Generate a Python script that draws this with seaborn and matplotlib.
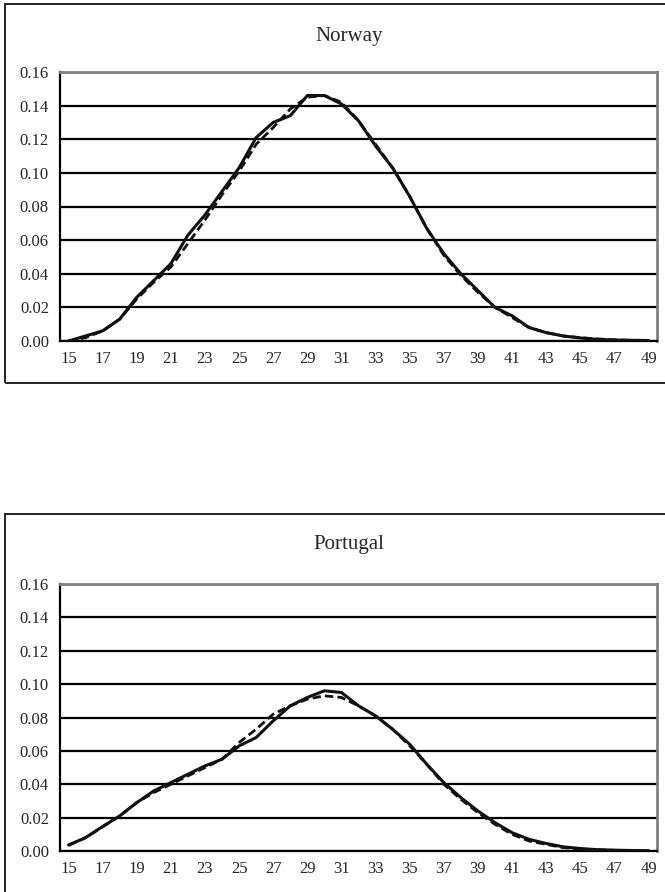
import seaborn as sns
import matplotlib.pyplot as plt
import matplotlib.patches as patches
import numpy as np
import pandas as pd

ages = list(range(15, 50))

norway_solid = [0.000, 0.003, 0.006, 0.013, 0.026, 0.036, 0.046, 0.063, 0.075, 0.089,
                0.103, 0.121, 0.130, 0.134, 0.146, 0.146, 0.141, 0.131, 0.116, 0.103,
                0.086, 0.067, 0.052, 0.040, 0.030, 0.020, 0.015, 0.008, 0.005, 0.003,
                0.0018, 0.001, 0.0006, 0.0004, 0.0003]
norway_dashed = [0.000, 0.002, 0.006, 0.013, 0.025, 0.035, 0.044, 0.058, 0.072, 0.087,
                 0.101, 0.117, 0.127, 0.138, 0.145, 0.146, 0.142, 0.131, 0.117, 0.103,
                 0.086, 0.067, 0.051, 0.039, 0.029, 0.020, 0.014, 0.008, 0.005, 0.003,
                 0.002, 0.0012, 0.0007, 0.0004, 0.0003]

portugal_solid = [0.0036, 0.008, 0.0147, 0.021, 0.029, 0.036, 0.041, 0.046, 0.051, 0.055,
                  0.063, 0.068, 0.078, 0.087, 0.092, 0.096, 0.095, 0.087, 0.081, 0.073,
                  0.064, 0.052, 0.041, 0.032, 0.024, 0.017, 0.011, 0.007, 0.0045, 0.0025,
                  0.0015, 0.0008, 0.0005, 0.0003, 0.0002]
portugal_dashed = [0.0034, 0.008, 0.0145, 0.021, 0.029, 0.035, 0.040, 0.045, 0.050, 0.055,
                   0.065, 0.073, 0.082, 0.087, 0.091, 0.093, 0.092, 0.087, 0.081, 0.073,
                   0.063, 0.052, 0.040, 0.031, 0.023, 0.016, 0.010, 0.006, 0.004, 0.002,
                   0.0012, 0.0007, 0.0004, 0.0002, 0.0001]

yticks = [0.00, 0.02, 0.04, 0.06, 0.08, 0.10, 0.12, 0.14, 0.16]

sns.set_theme(style="white")
plt.rcParams['font.family'] = ['Liberation Serif', 'DejaVu Serif']

fig = plt.figure(figsize=(6.65, 8.92), dpi=100)

# outer frames (chart areas)
for (x0, y0, w, h) in [(5, 4, 680, 379), (5, 514, 680, 400)]:
    rect = patches.Rectangle((x0 / 665, 1 - (y0 + h) / 892), w / 665, h / 892,
                             transform=fig.transFigure, fill=False,
                             edgecolor='#222222', linewidth=1.4, clip_on=False)
    fig.patches.append(rect)


def draw_panel(rect, title, title_y, solid, dashed):
    ax = fig.add_axes(rect)
    idx = np.arange(len(ages))
    df = pd.DataFrame({'idx': np.concatenate([idx, idx]),
                       'value': solid + dashed,
                       'series': ['a'] * len(ages) + ['b'] * len(ages)})
    sns.lineplot(data=df[df.series == 'b'], x='idx', y='value', ax=ax,
                 color='#111111', linewidth=2.0, linestyle=(0, (3, 1.5)), zorder=3)
    sns.lineplot(data=df[df.series == 'a'], x='idx', y='value', ax=ax,
                 color='#111111', linewidth=2.2, zorder=4)
    ax.set_xlim(-0.5, len(ages) - 0.5)
    ax.set_ylim(0, 0.16)
    ax.set_yticks(yticks)
    ax.set_yticklabels(['%.2f' % v for v in yticks], fontsize=12)
    ax.yaxis.grid(True, color='black', linewidth=1.6)
    ax.set_axisbelow(True)
    ax.set_xticks(idx[::2])
    ax.set_xticklabels([str(a) for a in ages[::2]], fontsize=12)
    ax.set_xticks(np.arange(-0.5, len(ages), 1.0), minor=True)
    ax.tick_params(axis='x', which='major', length=0, pad=7)
    ax.tick_params(axis='x', which='minor', length=4, width=1.5, color='black', direction='out')
    ax.tick_params(axis='y', length=5, width=1.5, color='black', direction='out', pad=3)
    ax.set_xlabel('')
    ax.set_ylabel('')
    for s in ['left', 'bottom']:
        ax.spines[s].set_color('black')
        ax.spines[s].set_linewidth(1.6)
    for s in ['top', 'right']:
        ax.spines[s].set_color('#808080')
        ax.spines[s].set_linewidth(2.0)
    fig.text(0.525, title_y, title, ha='center', va='center', fontsize=15)
    return ax


draw_panel([60 / 665, 1 - 341 / 892, 597 / 665, 269 / 892], 'Norway', 1 - 36 / 892,
           norway_solid, norway_dashed)
draw_panel([60 / 665, 1 - 851 / 892, 597 / 665, 267 / 892], 'Portugal', 1 - 545 / 892,
           portugal_solid, portugal_dashed)

fig.savefig('out.png', dpi=100)
